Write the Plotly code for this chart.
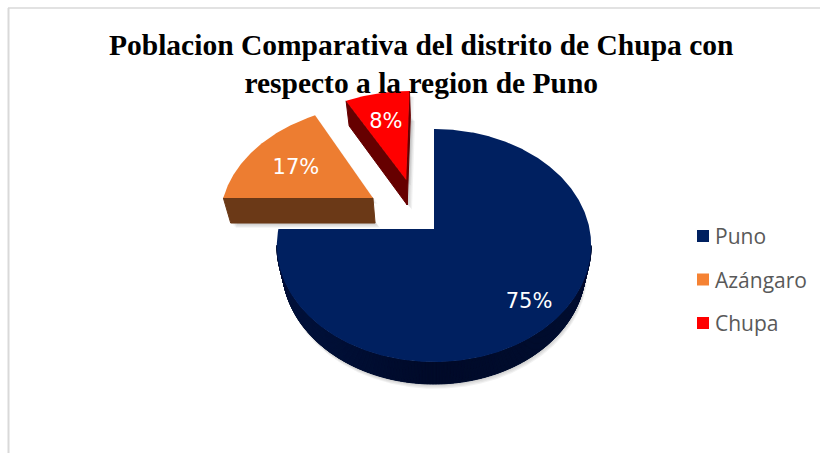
import numpy as np
import plotly.graph_objects as go

# ---- data ----
categories = ["Puno", "Azángaro", "Chupa"]
values = [75, 17, 8]
labels = ["75%", "17%", "8%"]
title_lines = ["Poblacion Comparativa del distrito de Chupa con", "respecto a la region de Puno"]

# ---- style / layout ----
top_colors = ["#002060", "#ED7D31", "#FF0000"]
side_colors = ["#000F33", "#6B3917", "#660000"]
legend_colors = ["#002060", "#F58233", "#FF0000"]
# slice displacement on the pie plane (x, y), label radius, thickness
pulls = [(0.0, 0.0), (-0.408, 0.282), (-0.19, 0.457)]
label_r = [0.795, 0.646, 0.677]
depths = [22.0, 25.0, 25.0]
CX, CY = 434.0, 229.0      # pie centre on the page
A, B = 155.6, 114.2        # projected radii
K = 0.1416                 # perspective
SHRINK = 0.965             # lower face is slightly narrower
LABEL_DY = 3.5


def project(x, y):
    d = 1 + K * y
    return CX + A * x / d, CY - B * y / d


def lower(x, y, depth):
    return CX + (np.asarray(x) - CX) * SHRINK, np.asarray(y) + depth


def slice_outline(start, end, pull):
    th = np.radians(np.linspace(start, end, max(int(end - start), 2) * 2))
    xs = np.concatenate([[pull[0]], pull[0] + np.sin(th), [pull[0]]])
    ys = np.concatenate([[pull[1]], pull[1] + np.cos(th), [pull[1]]])
    return project(xs, ys)


fig = go.Figure()
total = sum(values)
starts = np.concatenate([[0], np.cumsum(values)[:-1]]) / total * 360
ends = np.cumsum(values) / total * 360

# soft shadows
for i in range(len(values)):
    px, py = slice_outline(starts[i], ends[i], pulls[i])
    lx_, ly_ = lower(px, py, depths[i])
    for s in (1.5, 3, 4.5, 6):
        fig.add_trace(go.Scatter(x=lx_ + s * (0.3 if i == 0 else 0.8), y=ly_ + s * 0.8, mode="lines", fill="toself",
                                 fillcolor="rgba(0,0,0,0.05)", line=dict(width=0), hoverinfo="skip", showlegend=False))
        if i > 0:
            fig.add_trace(go.Scatter(x=px + s * 0.8, y=py + 4 + s * 0.3, mode="lines", fill="toself",
                                     fillcolor="rgba(0,0,0,0.03)", line=dict(width=0), hoverinfo="skip", showlegend=False))

# side faces
for i in range(len(values)):
    px, py = slice_outline(starts[i], ends[i], pulls[i])
    qx, qy = lower(px, py, depths[i])
    sx, sy, bands = [], [], []
    for j in range(len(px) - 1):
        if px[j + 1] - px[j] < 0:
            quad_x = [px[j], px[j + 1], qx[j + 1], qx[j], px[j]]
            quad_y = [py[j], py[j + 1], qy[j + 1], qy[j], py[j]]
            sx += quad_x + [None]
            sy += quad_y + [None]
            bands.append((quad_x, quad_y, px[j]))
    if sx:
        fig.add_trace(go.Scatter(x=sx, y=sy, mode="lines", fill="toself", fillcolor=side_colors[i],
                                 line=dict(width=1, color=side_colors[i]), hoverinfo="skip", showlegend=False))
    if i == 0:
        # gentle shading on the big slice, darkest near the middle
        for quad_x, quad_y, xj in bands:
            t = abs((xj - CX) / A)
            col = f"rgb(0,{int(10 + 10 * t)},{int(40 + 24 * t)})" if xj < CX else f"rgb(0,{int(10 + 5 * t)},{int(40 + 8 * t)})"
            fig.add_trace(go.Scatter(x=quad_x, y=quad_y, mode="lines", fill="toself", fillcolor=col,
                                     line=dict(width=0), hoverinfo="skip", showlegend=False))

# top faces
for i in range(len(values)):
    px, py = slice_outline(starts[i], ends[i], pulls[i])
    fig.add_trace(go.Scatter(x=px, y=py, mode="lines", fill="toself", fillcolor=top_colors[i],
                             line=dict(width=0), name=categories[i], showlegend=False, hoverinfo="name"))

# data labels
lx, ly = [], []
for i in range(len(values)):
    m = np.radians((starts[i] + ends[i]) / 2)
    x, y = project(pulls[i][0] + label_r[i] * np.sin(m), pulls[i][1] + label_r[i] * np.cos(m))
    lx.append(float(x))
    ly.append(float(y) + LABEL_DY)
fig.add_trace(go.Scatter(x=lx, y=ly, mode="text", text=labels, textposition="middle center",
                         textfont=dict(family="DejaVu Sans", size=21, color="white"),
                         hoverinfo="skip", showlegend=False))

# legend
LEG_X, LEG_Y, LEG_STEP = 703, 236, 43.5
fig.add_trace(go.Scatter(x=[LEG_X] * 3, y=[LEG_Y + k * LEG_STEP for k in range(3)], mode="markers",
                         marker=dict(symbol="square", size=12, color=legend_colors, line=dict(width=0)),
                         hoverinfo="skip", showlegend=False))
for k, c in enumerate(categories):
    fig.add_annotation(x=LEG_X + 10, y=LEG_Y + k * LEG_STEP, text=c, showarrow=False, xanchor="left", yanchor="middle",
                       font=dict(family="Open Sans", size=21, color="#595959"))

# title
fig.add_annotation(x=421, y=64, text="<b>" + "<br>".join(title_lines) + "</b>", showarrow=False,
                   xanchor="center", yanchor="middle", align="center",
                   font=dict(family="Liberation Serif", size=29.5, color="black"))

# chart border (top and left only are in frame)
fig.add_shape(type="line", x0=8.5, x1=8.5, y0=8, y1=453, line=dict(color="#D9D9D9", width=2))
fig.add_shape(type="line", x0=8, x1=820, y0=8, y1=8, line=dict(color="#D9D9D9", width=1.5))

fig.update_layout(width=820, height=453, margin=dict(l=0, r=0, t=0, b=0), paper_bgcolor="white",
                  plot_bgcolor="white", showlegend=False,
                  xaxis=dict(range=[0, 820], visible=False, fixedrange=True),
                  yaxis=dict(range=[453, 0], visible=False, fixedrange=True))
fig.write_html("out.html", config={"displayModeBar": False},
               post_script="document.body.style.margin='0';document.documentElement.style.overflow='hidden';")
